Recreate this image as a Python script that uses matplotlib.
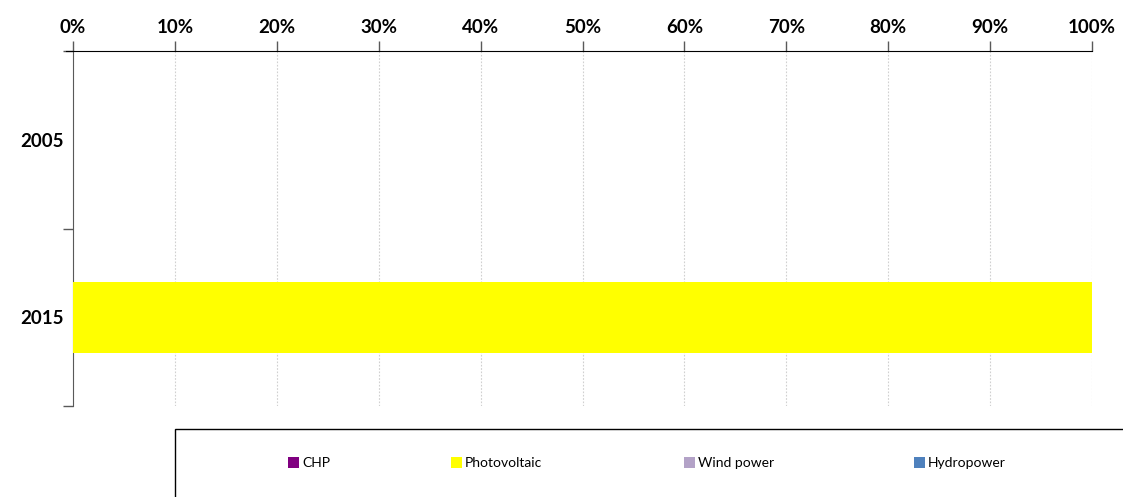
import matplotlib
matplotlib.use("Agg")
import matplotlib.pyplot as plt
from matplotlib.patches import Rectangle, Patch
import numpy as np

years = ["2005", "2015"]
series = ["CHP", "Photovoltaic", "Wind power", "Hydropower"]
colors = ["#800080", "#ffff00", "#b3a2c7", "#4f81bd"]
shares = {
    "CHP": [0, 0],
    "Photovoltaic": [0, 100],
    "Wind power": [0, 0],
    "Hydropower": [0, 0],
}

plt.rcParams["font.family"] = ["Lato", "DejaVu Sans"]

fig = plt.figure(figsize=(11.23, 4.97), dpi=100)
ax = fig.add_axes([73 / 1123, 1 - 406 / 497, (1092 - 73) / 1123, (406 - 51) / 497])

y = np.arange(len(years))
left = np.zeros(len(years))
for name, col in zip(series, colors):
    vals = np.array(shares[name], dtype=float)
    ax.barh(y, vals, left=left, height=0.4, color=col, label=name, zorder=3)
    left += vals

ax.set_xlim(0, 100)
ax.set_ylim(1.5, -0.5)
ax.set_yticks(y)
ax.set_yticklabels(years, fontsize=13.5, fontweight="bold")
ax.set_yticks([-0.5, 0.5, 1.5], minor=True)
ax.tick_params(axis="y", which="major", length=0, pad=7)
ax.tick_params(axis="y", which="minor", length=7, color="#595959", width=1)

ax.xaxis.tick_top()
ax.set_xticks(np.arange(0, 101, 10))
ax.set_xticklabels([f"{v}%" for v in range(0, 101, 10)], fontsize=13.5, fontweight="bold")
ax.tick_params(axis="x", length=7, color="#595959", width=1, pad=4)
ax.grid(axis="x", color="#d0d0d0", linestyle=(0, (1.5, 1.5)), linewidth=0.8, zorder=0)

for s in ["right", "bottom"]:
    ax.spines[s].set_visible(False)
ax.spines["left"].set_color("#595959")
ax.spines["top"].set_color("#000000")
ax.spines["top"].set_bounds(-0.7, 100)

# legend box
fig.patches.append(Rectangle((175 / 1123, -0.1), 1.0, 0.1 + (1 - 429 / 497),
                             transform=fig.transFigure, fill=False,
                             edgecolor="#000000", linewidth=1))

leg_x = [288, 451, 684, 914]
for name, col, xp in zip(series, colors, leg_x):
    fig.legend(handles=[Patch(facecolor=col, label=name)],
               loc="center left", bbox_to_anchor=(xp / 1123, 1 - 463 / 497),
               frameon=False, fontsize=10, handlelength=0.8, handleheight=0.8,
               handletextpad=0.2, borderaxespad=0, borderpad=0)

fig.savefig("out.png", dpi=100)
